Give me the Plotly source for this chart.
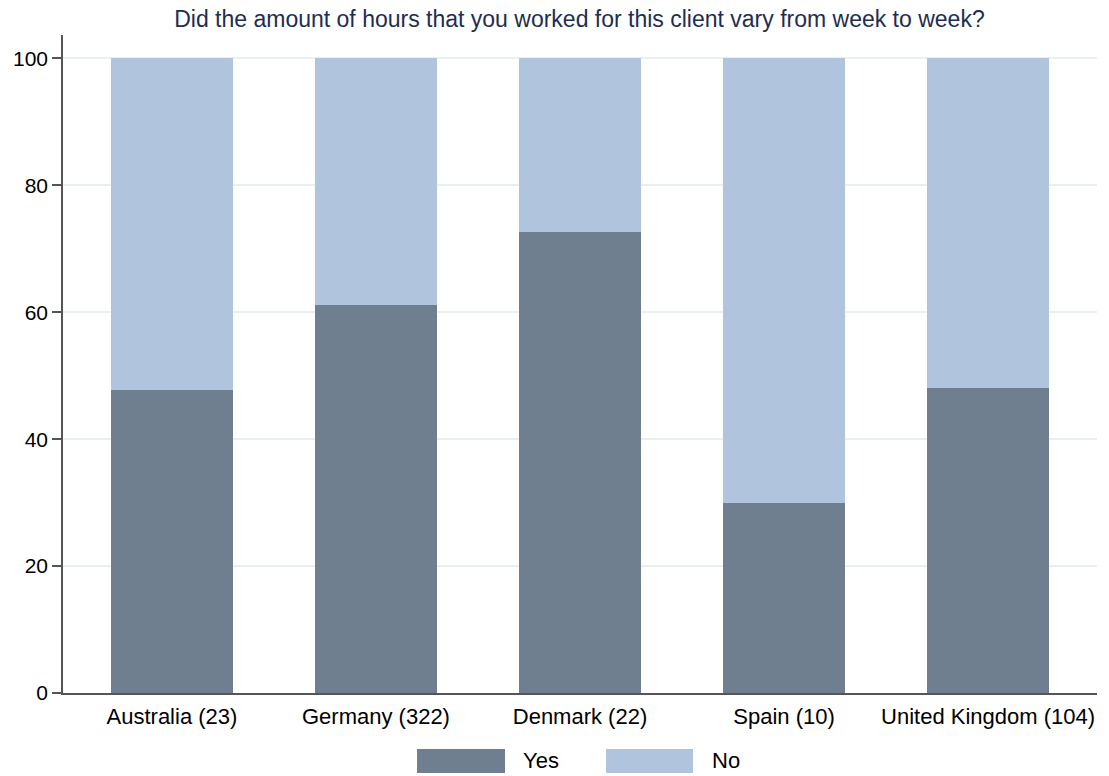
import plotly.graph_objects as go

categories = ["Australia (23)", "Germany (322)", "Denmark (22)", "Spain (10)", "United Kingdom (104)"]
yes_pct = [47.8, 61.2, 72.7, 30.0, 48.1]
no_pct = [52.2, 38.8, 27.3, 70.0, 51.9]
y_ticks = [0, 20, 40, 60, 80, 100]
series_names = ["Yes", "No"]
colors = ["#6F7F8F", "#B0C4DE"]

title = "Did the amount of hours that you worked for this client vary from week to week?"
font_family = "Liberation Sans, Arial, sans-serif"

fig = go.Figure()
for name, vals, col in zip(series_names, [yes_pct, no_pct], colors):
    fig.add_trace(go.Bar(x=categories, y=vals, name=name, marker=dict(color=col, line=dict(width=0)),
                         width=0.6, showlegend=False))

fig.update_layout(
    barmode="stack",
    width=1109, height=776,
    margin=dict(l=63, r=12, t=35, b=83),
    plot_bgcolor="white", paper_bgcolor="white",
    font=dict(family=font_family, size=22, color="black"),
    title=dict(text=title, x=0.5225, xanchor="center", y=0.9755, yanchor="middle",
               font=dict(size=23, color="#1E2D53", family=font_family)),
    xaxis=dict(range=[-0.534, 4.534], showline=True, linecolor="#555555", linewidth=1.5,
               ticks="", showgrid=False, tickfont=dict(size=22), ticklabelstandoff=3),
    yaxis=dict(range=[0, 103.7], tickvals=y_ticks, showline=True, linecolor="#555555", linewidth=1.5,
               ticks="outside", ticklen=9, tickcolor="#555555", tickwidth=1.5,
               showgrid=True, gridcolor="#E8F0F1", gridwidth=1.5, zeroline=False,
               tickfont=dict(size=21)),
)

# legend (wide swatches like the original)
legend_x = [(0.3424, 0.4275), (0.5251, 0.6093)]
text_x = [0.4449, 0.6277]
for (x0, x1), tx, col, name in zip(legend_x, text_x, colors, series_names):
    fig.add_shape(type="rect", xref="paper", yref="paper", x0=x0, x1=x1,
                  y0=-0.1216, y1=-0.0851, fillcolor=col, line=dict(width=0))
    fig.add_annotation(text=name, xref="paper", yref="paper", x=tx, y=-0.1033,
                       xanchor="left", yanchor="middle", showarrow=False,
                       xshift=-2, font=dict(size=22))

fig.write_html("out.html", config={"displayModeBar": False},
               post_script="document.body.style.margin='0';")
